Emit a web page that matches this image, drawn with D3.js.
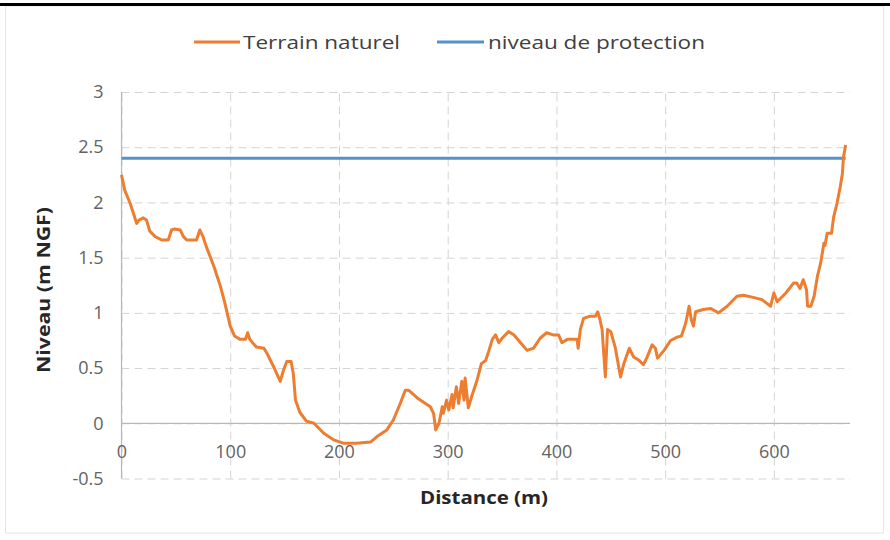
<!DOCTYPE html>
<html>
<head>
<meta charset="utf-8">
<script src="https://cdn.jsdelivr.net/npm/d3@7"></script>
<style>
  html, body { margin: 0; padding: 0; background: #fff; }
  svg { display: block; }
</style>
</head>
<body>
<script>
// ---- data ----
const distance = [0,3,8,14,16,20,23,26,31,37,43,46,49,54,57,60,69,72,75,78,85,91,95,100,104,109,114,116,118,124,131,134,140,146,149,152,156,158,160,164,170,177,186,195,204,216,229,235,244,250,256,261,264,272,284,287,289,292,295,296,299,301,304,305,308,310,313,315,316,319,322,327,331,335,338,341,344,347,350,356,361,367,373,379,385,391,397,402,405,410,419,420,422,425,431,436,438,440,442,445,447,450,454,459,462,467,471,476,480,483,488,491,493,499,505,511,515,519,522,524,526,528,535,542,549,557,566,572,581,589,597,600,603,606,611,618,621,624,627,630,631,634,637,640,643,646,647,649,653,655,658,661,663,664,666];
const terrain = [2.25,2.11,1.99,1.81,1.84,1.86,1.84,1.74,1.69,1.66,1.66,1.75,1.76,1.75,1.69,1.66,1.66,1.75,1.69,1.60,1.42,1.24,1.09,0.88,0.79,0.76,0.76,0.82,0.76,0.69,0.68,0.63,0.51,0.38,0.48,0.56,0.56,0.45,0.21,0.10,0.02,0.00,-0.09,-0.15,-0.18,-0.18,-0.17,-0.12,-0.06,0.03,0.17,0.30,0.30,0.23,0.15,0.09,-0.06,0.00,0.15,0.09,0.21,0.12,0.26,0.14,0.33,0.18,0.38,0.21,0.41,0.14,0.24,0.39,0.54,0.57,0.66,0.76,0.80,0.73,0.77,0.83,0.80,0.73,0.66,0.68,0.77,0.82,0.80,0.80,0.73,0.76,0.76,0.68,0.85,0.95,0.97,0.97,1.01,0.94,0.85,0.42,0.85,0.83,0.69,0.42,0.54,0.68,0.60,0.57,0.53,0.59,0.71,0.68,0.59,0.66,0.75,0.78,0.79,0.91,1.06,0.94,0.88,1.01,1.03,1.04,1.00,1.06,1.15,1.16,1.14,1.12,1.06,1.18,1.10,1.13,1.18,1.27,1.27,1.22,1.30,1.21,1.06,1.06,1.15,1.33,1.45,1.63,1.61,1.72,1.72,1.87,1.99,2.14,2.26,2.41,2.52];
const protectionDistance = [0, 666];
const protectionLevel = [2.4, 2.4];
const xTicks = [0,100,200,300,400,500,600];
const yTicks = [-0.5,0,0.5,1,1.5,2,2.5,3];
const seriesNames = ["Terrain naturel", "niveau de protection"];
const xTitle = "Distance (m)";
const yTitle = "Niveau (m NGF)";

(function () {
// ---- layout ----
const W = 890, H = 540;
const pLeft = 121.5, pTop = 92, pRight = 850, pBottom = 478.5;
const colOrange = "#ED7D31", colBlue = "#5592CC";
const tickFont = "'Open Sans', 'DejaVu Sans', sans-serif";

const svg = d3.select("body").append("svg").attr("width", W).attr("height", H);

// frame
svg.append("rect").attr("x", 5.5).attr("y", 6).attr("width", 878).attr("height", 527)
  .attr("fill", "#fff").attr("stroke", "#e6e6e6").attr("stroke-width", 1);
svg.append("rect").attr("x", 0).attr("y", 3).attr("width", W).attr("height", 3).attr("fill", "#000");

const x = d3.scaleLinear().domain([0, 670]).range([pLeft, pRight]);
const y = d3.scaleLinear().domain([-0.5, 3]).range([pBottom, pTop]);

// gridlines
const gx = svg.append("g").attr("transform", `translate(0,${pBottom})`)
  .call(d3.axisBottom(x).tickValues(xTicks).tickSize(-(pBottom - pTop)).tickFormat(""));
gx.select(".domain").remove();
gx.selectAll(".tick line").attr("stroke", "#d4d4d4").attr("stroke-dasharray", "8,5");

const gy = svg.append("g").attr("transform", `translate(${pLeft},0)`)
  .call(d3.axisLeft(y).tickValues(yTicks).tickSize(-(pRight - pLeft)).tickFormat(""));
gy.select(".domain").remove();
gy.selectAll(".tick line").attr("stroke", "#d4d4d4").attr("stroke-dasharray", "8,5");

// axis lines
svg.append("line").attr("x1", pLeft).attr("x2", pLeft).attr("y1", pTop).attr("y2", pBottom)
  .attr("stroke", "#b8b8b8").attr("stroke-width", 1.2);
svg.append("line").attr("x1", pLeft).attr("x2", pRight).attr("y1", y(0)).attr("y2", y(0))
  .attr("stroke", "#b8b8b8").attr("stroke-width", 1.2);

// tick labels
const yl = svg.append("g").attr("transform", `translate(${pLeft - 18},0)`)
  .call(d3.axisLeft(y).tickValues(yTicks).tickSize(0).tickPadding(0).tickFormat(d => String(d)));
yl.select(".domain").remove();
yl.selectAll("text").attr("font-family", tickFont).attr("font-size", 18).attr("fill", "#636363");

const xl = svg.append("g").attr("transform", `translate(0,${y(0) + 22})`)
  .call(d3.axisBottom(x).tickValues(xTicks).tickSize(0).tickPadding(0).tickFormat(d => String(d)));
xl.select(".domain").remove();
xl.selectAll("text").attr("font-family", tickFont).attr("font-size", 18).attr("fill", "#636363");

// lines
const terrainPts = distance.map((d, i) => [d, terrain[i]]);
const protPts = protectionDistance.map((d, i) => [d, protectionLevel[i]]);
const line = d3.line().x(d => x(d[0])).y(d => y(d[1]));

svg.append("path").datum(protPts).attr("d", line).attr("fill", "none")
  .attr("stroke", colBlue).attr("stroke-width", 3);
svg.append("path").datum(terrainPts).attr("d", line).attr("fill", "none")
  .attr("stroke", colOrange).attr("stroke-width", 3).attr("stroke-linejoin", "round");

// legend
const leg = svg.append("g");
const legItems = [
  {name: seriesNames[0], color: colOrange, x1: 194, x2: 240, tx: 243, tl: 157},
  {name: seriesNames[1], color: colBlue, x1: 437, x2: 484, tx: 488, tl: 217}
];
legItems.forEach(it => {
  leg.append("line").attr("x1", it.x1).attr("x2", it.x2).attr("y1", 42).attr("y2", 42)
    .attr("stroke", it.color).attr("stroke-width", 3);
  leg.append("text").attr("x", it.tx).attr("y", 49).text(it.name)
    .attr("font-family", tickFont).attr("font-size", 18).attr("fill", "#404040")
    .attr("textLength", it.tl).attr("lengthAdjust", "spacingAndGlyphs");
});

// axis titles
svg.append("text").attr("x", 484).attr("y", 504).attr("text-anchor", "middle")
  .attr("font-family", tickFont).attr("font-weight", "bold").attr("font-size", 18)
  .attr("fill", "#262626").attr("textLength", 128).attr("lengthAdjust", "spacingAndGlyphs")
  .text(xTitle);
svg.append("text").attr("transform", "translate(50,290) rotate(-90)").attr("text-anchor", "middle")
  .attr("font-family", tickFont).attr("font-weight", "bold").attr("font-size", 18)
  .attr("fill", "#262626").attr("textLength", 166).attr("lengthAdjust", "spacingAndGlyphs")
  .text(yTitle);
})();
</script>
</body>
</html>
